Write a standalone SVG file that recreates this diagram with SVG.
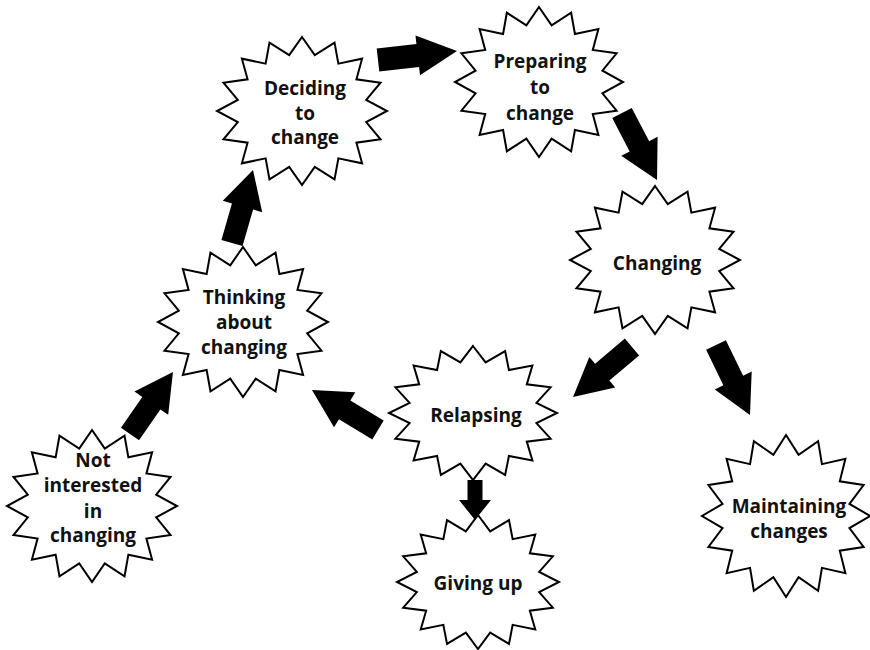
<svg xmlns="http://www.w3.org/2000/svg" xmlns:xlink="http://www.w3.org/1999/xlink" width="870" height="650" viewBox="0 0 870 650">
<style>
.star{fill:#fff;stroke:#000;stroke-width:2;stroke-linejoin:miter;vector-effect:non-scaling-stroke}
.lbl{font-family:"Open Sans","Liberation Sans",sans-serif;font-weight:700;font-size:19px;fill:#111;text-anchor:middle}
.arrow{fill:#000;stroke:none}
</style>
<defs>
<path id="star" class="star" d="M0,-100 L15.02,-75.52 L38.27,-92.39 L42.78,-64.02 L70.71,-70.71 L64.02,-42.78 L92.39,-38.27 L75.52,-15.02 L100,0 L75.52,15.02 L92.39,38.27 L64.02,42.78 L70.71,70.71 L42.78,64.02 L38.27,92.39 L15.02,75.52 L0,100 L-15.02,75.52 L-38.27,92.39 L-42.78,64.02 L-70.71,70.71 L-64.02,42.78 L-92.39,38.27 L-75.52,15.02 L-100,0 L-75.52,-15.02 L-92.39,-38.27 L-64.02,-42.78 L-70.71,-70.71 L-42.78,-64.02 L-38.27,-92.39 L-15.02,-75.52 Z"/>
</defs>
<rect width="870" height="650" fill="#fff"/>
<g id="deciding">
<use href="#star" transform="translate(302,111) scale(0.85,0.74)"/>
<text class="lbl" x="305" y="95">Deciding</text>
<text class="lbl" x="305" y="120">to</text>
<text class="lbl" x="305" y="144">change</text>
</g>
<g id="preparing">
<use href="#star" transform="translate(539,82) scale(0.84,0.75)"/>
<text class="lbl" x="540" y="68">Preparing</text>
<text class="lbl" x="540" y="94">to</text>
<text class="lbl" x="540" y="120">change</text>
</g>
<g id="changing">
<use href="#star" transform="translate(655,260) scale(0.85,0.74)"/>
<text class="lbl" x="657" y="270">Changing</text>
</g>
<g id="thinking">
<use href="#star" transform="translate(243,322) scale(0.85,0.75)"/>
<text class="lbl" x="244" y="304">Thinking</text>
<text class="lbl" x="244" y="329">about</text>
<text class="lbl" x="244" y="354">changing</text>
</g>
<g id="not-interested">
<use href="#star" transform="translate(92,506) scale(0.85,0.76)"/>
<text class="lbl" x="93" y="467">Not</text>
<text class="lbl" x="93" y="492">interested</text>
<text class="lbl" x="93" y="518">in</text>
<text class="lbl" x="93" y="542">changing</text>
</g>
<g id="relapsing">
<use href="#star" transform="translate(473,413) scale(0.84,0.67)"/>
<text class="lbl" x="476" y="422">Relapsing</text>
</g>
<g id="giving-up">
<use href="#star" transform="translate(478,582) scale(0.81,0.67)"/>
<text class="lbl" x="478" y="590">Giving up</text>
</g>
<g id="maintaining">
<use href="#star" transform="translate(786,516) scale(0.84,0.81)"/>
<text class="lbl" x="789" y="513">Maintaining</text>
<text class="lbl" x="789" y="538">changes</text>
</g>
<g id="connectors">
<polygon class="arrow" points="0,-11.5 40,-11.5 40,-20 79.5,0 40,20 40,11.5 0,11.5" transform="translate(378,60) rotate(-6.5)"/>
<polygon class="arrow" points="0,-11 37.6,-11 37.6,-20.5 75.6,0 37.6,20.5 37.6,11 0,11" transform="translate(622,113) rotate(62.4)"/>
<polygon class="arrow" points="0,-11 38,-11 38,-20.5 76,0 38,20.5 38,11 0,11" transform="translate(232,243) rotate(-73.95)"/>
<polygon class="arrow" points="0,-11 37.5,-11 37.5,-20.5 75.5,0 37.5,20.5 37.5,11 0,11" transform="translate(130,434) rotate(-55.3)"/>
<polygon class="arrow" points="0,-11 39,-11 39,-20.5 77.2,0 39,20.5 39,11 0,11" transform="translate(378,430) rotate(211.2)"/>
<polygon class="arrow" points="0,-11 39,-11 39,-20 77.3,0 39,20 39,11 0,11" transform="translate(632,347) rotate(139.7)"/>
<polygon class="arrow" points="0,-11 39.5,-11 39.5,-20.5 77.8,0 39.5,20.5 39.5,11 0,11" transform="translate(716,345) rotate(64.1)"/>
<polygon class="arrow" points="0,-7.5 20,-7.5 20,-16 40,0 20,16 20,7.5 0,7.5" transform="translate(475,480) rotate(90)"/>
</g>
</svg>
